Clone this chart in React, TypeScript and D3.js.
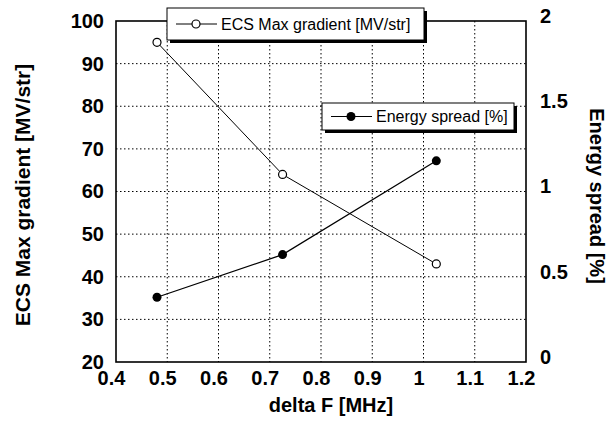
import React from 'react';
import * as d3 from 'd3';

// values
const deltaF = [0.48, 0.725, 1.025];
const ecsGradient = [95, 64, 43];
const energySpread = [0.38, 0.63, 1.18];
const xTicks = [0.4, 0.5, 0.6, 0.7, 0.8, 0.9, 1.0, 1.1, 1.2];
const leftTicks = [20, 30, 40, 50, 60, 70, 80, 90, 100];
const rightTicks = [0, 0.5, 1, 1.5, 2];

const FONT = '"Liberation Sans", Arial, sans-serif';

const App = () => {
  const ref = React.useRef<SVGSVGElement>(null);

  React.useEffect(() => {
    const svg = d3.select(ref.current);
    svg.selectAll('*').remove();

    const W = 610;
    const H = 422;
    const margin = { top: 21, right: 84, bottom: 60, left: 116 };
    const width = W - margin.left - margin.right;
    const height = H - margin.top - margin.bottom;

    svg.attr('width', W).attr('height', H).style('background', '#fff');

    const x = d3.scaleLinear().domain([0.4, 1.2]).range([0, width]);
    const yL = d3.scaleLinear().domain([20, 100]).range([height, 0]);
    const yR = d3.scaleLinear().domain([0, 2]).range([height, 0]);

    const g = svg.append('g').attr('transform', `translate(${margin.left},${margin.top})`);

    // dotted grid
    g.append('g')
      .selectAll('line')
      .data(xTicks.slice(1, -1))
      .join('line')
      .attr('x1', (d) => x(d))
      .attr('x2', (d) => x(d))
      .attr('y1', 0)
      .attr('y2', height)
      .attr('stroke', '#000')
      .attr('stroke-width', 1)
      .attr('stroke-dasharray', '1.5,2.5');
    g.append('g')
      .selectAll('line')
      .data(leftTicks.slice(1, -1))
      .join('line')
      .attr('x1', 0)
      .attr('x2', width)
      .attr('y1', (d) => yL(d))
      .attr('y2', (d) => yL(d))
      .attr('stroke', '#000')
      .attr('stroke-width', 1)
      .attr('stroke-dasharray', '1.5,2.5');

    g.append('rect')
      .attr('width', width)
      .attr('height', height)
      .attr('fill', 'none')
      .attr('stroke', '#000')
      .attr('stroke-width', 1.6);

    // axes (labels only)
    const styleAxis = (sel: any) => {
      sel.select('.domain').remove();
      sel.selectAll('text')
        .attr('font-family', FONT)
        .attr('font-size', 20)
        .attr('font-weight', 'bold')
        .attr('fill', '#000');
    };

    g.append('g')
      .attr('transform', `translate(-5,${height})`)
      .call(d3.axisBottom(x).tickValues(xTicks).tickSize(0).tickPadding(9).tickFormat(d3.format('~g')))
      .call(styleAxis);

    g.append('g')
      .call(d3.axisLeft(yL).tickValues(leftTicks).tickSize(0).tickPadding(12))
      .call(styleAxis);

    g.append('g')
      .attr('transform', `translate(${width},-5)`)
      .call(d3.axisRight(yR).tickValues(rightTicks).tickSize(0).tickPadding(14).tickFormat(d3.format('~g')))
      .call(styleAxis);

    // series
    const pts = deltaF.map((f, i) => ({ f, ecs: ecsGradient[i], es: energySpread[i] }));

    g.append('path')
      .datum(pts)
      .attr('fill', 'none')
      .attr('stroke', '#000')
      .attr('stroke-width', 1)
      .attr('d', d3.line<any>().x((d) => x(d.f)).y((d) => yL(d.ecs)));
    g.append('path')
      .datum(pts)
      .attr('fill', 'none')
      .attr('stroke', '#000')
      .attr('stroke-width', 1.2)
      .attr('d', d3.line<any>().x((d) => x(d.f)).y((d) => yR(d.es)));

    g.append('g')
      .selectAll('circle')
      .data(pts)
      .join('circle')
      .attr('cx', (d) => x(d.f))
      .attr('cy', (d) => yL(d.ecs))
      .attr('r', 4)
      .attr('fill', '#fff')
      .attr('stroke', '#000')
      .attr('stroke-width', 1.2);
    g.append('g')
      .selectAll('circle')
      .data(pts)
      .join('circle')
      .attr('cx', (d) => x(d.f))
      .attr('cy', (d) => yR(d.es))
      .attr('r', 4.5)
      .attr('fill', '#000');

    // legends with drop shadow
    const legend = (lx: number, ly: number, lw: number, lh: number, label: string, filled: boolean) => {
      const lg = svg.append('g').attr('transform', `translate(${lx},${ly})`);
      lg.append('rect').attr('x', 3).attr('y', 3).attr('width', lw).attr('height', lh).attr('fill', '#000');
      lg.append('rect')
        .attr('width', lw)
        .attr('height', lh)
        .attr('fill', '#fff')
        .attr('stroke', '#000')
        .attr('stroke-width', 1);
      const cy = lh / 2;
      lg.append('line').attr('x1', 9).attr('x2', 50).attr('y1', cy).attr('y2', cy).attr('stroke', '#000');
      lg.append('circle')
        .attr('cx', 29)
        .attr('cy', cy)
        .attr('r', filled ? 4.5 : 4)
        .attr('fill', filled ? '#000' : '#fff')
        .attr('stroke', '#000')
        .attr('stroke-width', filled ? 0 : 1.2);
      lg.append('text')
        .attr('x', 54)
        .attr('y', cy)
        .attr('dy', '0.36em')
        .attr('font-family', FONT)
        .attr('font-size', 16)
        .text(label);
    };
    legend(167, 8, 257, 32, 'ECS Max gradient [MV/str]', false);
    legend(322, 103, 192, 27, 'Energy spread [%]', true);

    // axis titles
    svg.append('text')
      .attr('x', 331)
      .attr('y', 405)
      .attr('dy', '0.35em')
      .attr('text-anchor', 'middle')
      .attr('font-family', FONT)
      .attr('font-size', 20)
      .attr('font-weight', 'bold')
      .text('delta F [MHz]');
    svg.append('text')
      .attr('transform', 'translate(23,195) rotate(-90)')
      .attr('dy', '0.35em')
      .attr('text-anchor', 'middle')
      .attr('font-family', FONT)
      .attr('font-size', 21)
      .attr('font-weight', 'bold')
      .text('ECS Max gradient [MV/str]');
    svg.append('text')
      .attr('transform', 'translate(597,196) rotate(90)')
      .attr('dy', '0.35em')
      .attr('text-anchor', 'middle')
      .attr('font-family', FONT)
      .attr('font-size', 20)
      .attr('font-weight', 'bold')
      .text('Energy spread [%]');
  }, []);

  return <svg ref={ref} style={{ position: 'absolute', left: 0, top: 0, display: 'block' }}></svg>;
};

export default App;
